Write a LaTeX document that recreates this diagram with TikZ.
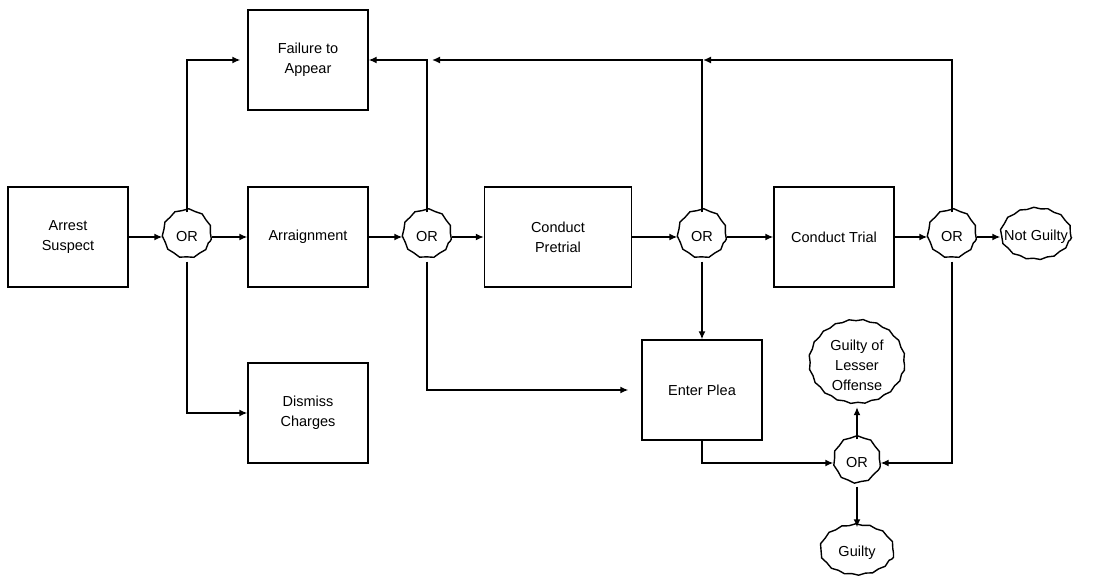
\documentclass[tikz,border=0pt]{standalone}
\usepackage{fontspec}
\setmainfont{Liberation Sans}
\usetikzlibrary{positioning, arrows.meta, shapes.geometric, decorations.pathmorphing}

\tikzset{
  act/.style={draw, rectangle, minimum width=120bp, minimum height=100bp, align=center},
  gate/.style={draw, circle, minimum size=48bp, inner sep=0pt, decorate,
    decoration={snake, segment length=14bp, amplitude=0.7bp}},
  verdict/.style={draw, ellipse, inner sep=0pt, align=center, decorate,
    decoration={snake, segment length=14bp, amplitude=0.7bp}}
}

\begin{document}
\begin{tikzpicture}
	[>={Latex[length=8bp,width=7bp]}, on grid, line width=1.4bp, font=\fontsize{14.5bp}{20bp}\selectfont]
   \useasboundingbox (-68bp,237bp) rectangle (1034bp,-342bp);
   \node[act] (arrest) {Arrest\\Suspect};
   \node[gate] (or_1) [right=119bp of arrest] {OR};
   \node[act] (arraign) [right=121bp of or_1] {Arraignment};
   \node[act] (fail) [above=177bp of arraign] {Failure to\\Appear};
   \node[act] (dismiss) [below=176bp of arraign] {Dismiss\\Charges};
   \node[gate] (or_2) [right=119bp of arraign] {OR};
   \node[act, minimum width=147bp] (pretrial) [right=131bp of or_2] {Conduct\\Pretrial};
   \node[gate] (or_3) [right=144bp of pretrial] {OR};
   \node[act] (trial) [right=132bp of or_3] {Conduct Trial};
   \node[gate] (or_4) [right=118bp of trial] {OR};
   \node[verdict, minimum width=70bp, minimum height=51bp] (notguilty) [right=84bp of or_4] {\makebox[0pt]{Not Guilty}};
   \node[act] (plea) [below=153bp of or_3] {Enter Plea};
   \node[gate, minimum size=46bp] (or_5) [below right=73bp and 155bp of plea] {OR};
   \node[verdict, minimum width=95bp, minimum height=83bp] (lesser) [above=98bp of or_5] {Guilty of\\Lesser\\Offense};
   \node[verdict, minimum width=73bp, minimum height=50bp] (guilty) [below=90bp of or_5] {Guilty};
   \coordinate (top_2) at (or_2 |- fail.east);
   \coordinate (top_3) at (or_3 |- fail.east);
    \path[->]
    (arrest) edge (or_1)
    (or_1) edge (arraign)
    (arraign) edge (or_2)
    (or_2) edge (pretrial)
    (pretrial) edge (or_3)
    (or_3) edge (trial)
          edge (plea)
    (trial) edge (or_4)
    (or_4) edge (notguilty)
    (or_5) edge (lesser)
          edge (guilty);
    \draw[->, shorten >=7bp] (or_1) |- (fail.west);
    \draw[->] (or_1) |- (dismiss.west);
    \draw[->] (or_2) |- (fail.east);
    \draw[->, shorten >=5bp] (or_3) |- (top_2);
    \draw[->, shorten >=1bp] (or_4) |- (top_3);
    \draw[->, shorten >=13bp] (or_2) |- (plea.west);
    \draw[->] (plea.south) |- (or_5.west);
    \draw[->] (or_4) |- (or_5.east);
\end{tikzpicture}
\end{document}
